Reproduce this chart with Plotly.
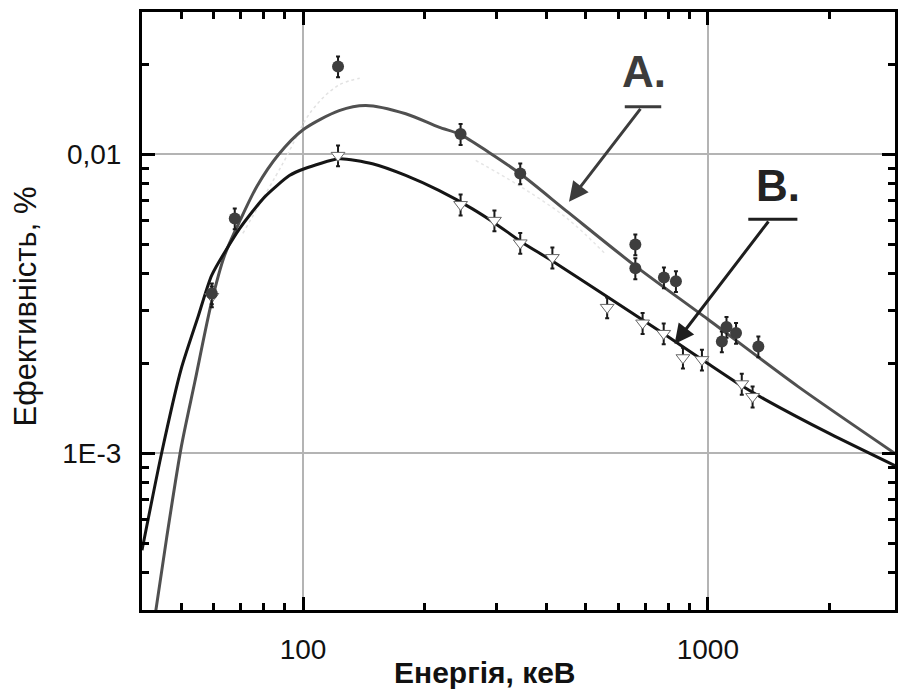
import plotly.graph_objects as go

# ---- data ----
# Curve A (grey fit)
curveA_x = [42.8, 46, 50, 54, 59.4, 64, 70, 77, 87, 100, 122.8, 142.9, 179.3, 216.5,
            244.8, 287.4, 344, 452, 660, 1000, 1665, 2900]
curveA_y = [2.7e-4, 5.2e-4, 1.05e-3, 1.73e-3, 3.2e-3, 4.6e-3, 6.05e-3, 7.85e-3, 1.0e-2,
            1.21e-2, 1.402e-2, 1.458e-2, 1.368e-2, 1.234e-2, 1.166e-2, 1.018e-2, 8.62e-3,
            6.4e-3, 4.25e-3, 2.81e-3, 1.68e-3, 1.0e-3]

# Curve B (black fit)
curveB_x = [40, 44.7, 50, 55, 59.5, 69.7, 80.3, 92.5, 100.7, 122.8, 148.4, 179.3, 216.5,
            261.5, 299, 347, 411, 557, 783, 1000, 1207, 1379, 2011, 2900]
curveB_y = [4.75e-4, 1.0e-3, 1.92e-3, 2.86e-3, 3.95e-3, 5.65e-3, 7.2e-3, 8.5e-3, 8.96e-3,
            9.67e-3, 9.31e-3, 8.51e-3, 7.58e-3, 6.59e-3, 5.87e-3, 5.09e-3, 4.42e-3, 3.38e-3,
            2.5e-3, 2.0e-3, 1.69e-3, 1.52e-3, 1.16e-3, 9.1e-4]

# faint dotted traces
faint1_x = [71, 89, 105, 122, 138]
faint1_y = [5.45e-3, 9.3e-3, 1.40e-2, 1.70e-2, 1.80e-2]
faint2_x = [267, 340, 450, 557]
faint2_y = [9.55e-3, 7.9e-3, 6.1e-3, 4.66e-3]

# Measured points, series A (filled circles)
ptsA_x = [59.5, 67.8, 122, 245, 344, 662, 662, 779, 834, 1083, 1112, 1174, 1333]
ptsA_y = [3.43e-3, 6.11e-3, 1.97e-2, 1.17e-2, 8.64e-3, 5.0e-3, 4.16e-3, 3.88e-3, 3.77e-3,
          2.37e-3, 2.65e-3, 2.53e-3, 2.28e-3]

# Measured points, series B (open triangles)
ptsB_x = [59.5, 122, 245, 297, 344, 413, 564, 690, 778, 868, 967, 1213, 1290]
ptsB_y = [3.35e-3, 9.93e-3, 6.8e-3, 6.02e-3, 5.06e-3, 4.52e-3, 3.08e-3, 2.73e-3, 2.52e-3,
          2.09e-3, 2.06e-3, 1.71e-3, 1.55e-3]

err_pct = 8

x_major = [100, 1000]
x_major_text = ["100", "1000"]
x_minor = [50, 60, 70, 80, 90, 200, 300, 400, 500, 600, 700, 800, 900, 2000]
y_major = [1e-3, 1e-2]
y_major_text = ["1E-3", "0,01"]
y_minor = [4e-4, 5e-4, 6e-4, 7e-4, 8e-4, 9e-4, 2e-3, 3e-3, 4e-3, 5e-3, 6e-3, 7e-3, 8e-3,
           9e-3, 2e-2]

x_title = "Енергія, кеВ"
y_title = "Ефективність, %"

FONT = "Liberation Sans, Arial, sans-serif"

fig = go.Figure()

fig.add_trace(go.Scatter(x=faint1_x, y=faint1_y, mode="lines",
                         line=dict(color="#e2e2e2", width=1.5, dash="dot", shape="spline"),
                         hoverinfo="skip", showlegend=False))
fig.add_trace(go.Scatter(x=faint2_x, y=faint2_y, mode="lines",
                         line=dict(color="#e6e6e6", width=1.5, dash="dot", shape="spline"),
                         hoverinfo="skip", showlegend=False))

fig.add_trace(go.Scatter(x=curveA_x, y=curveA_y, mode="lines",
                         line=dict(color="#505050", width=3, shape="spline", smoothing=0.8),
                         showlegend=False))
fig.add_trace(go.Scatter(x=curveB_x, y=curveB_y, mode="lines",
                         line=dict(color="#151515", width=3, shape="spline", smoothing=0.6),
                         showlegend=False))

fig.add_trace(go.Scatter(x=ptsB_x, y=ptsB_y, mode="markers",
                         marker=dict(symbol="triangle-down", size=12, color="white",
                                     line=dict(color="#666666", width=1)),
                         error_y=dict(type="percent", value=err_pct, color="#1a1a1a",
                                      thickness=2, width=2),
                         showlegend=False))
fig.add_trace(go.Scatter(x=ptsA_x, y=ptsA_y, mode="markers",
                         marker=dict(symbol="circle", size=12, color="#3e3e3e",
                                     line=dict(width=0)),
                         error_y=dict(type="percent", value=err_pct, color="#1a1a1a",
                                      thickness=2, width=2),
                         showlegend=False))

axis_common = dict(
    type="log", showline=True, linecolor="black", linewidth=3, mirror="allticks",
    ticks="inside", ticklen=13, tickwidth=2.5, tickcolor="black",
    showgrid=True, gridcolor="#b4b4b4", gridwidth=1.5, zeroline=False,
    tickfont=dict(family=FONT, size=28, color="#111111"),
    ticklabelstandoff=12,
)

fig.update_xaxes(
    **axis_common,
    range=[1.60206, 3.4624],
    tickmode="array", tickvals=x_major, ticktext=x_major_text,
    minor=dict(tickmode="array", tickvals=x_minor, ticks="inside", ticklen=7,
               tickwidth=2.5, tickcolor="black", showgrid=False),
)
fig.update_yaxes(
    **axis_common,
    range=[-3.5235, -1.5235],
    tickmode="array", tickvals=y_major, ticktext=y_major_text,
    minor=dict(tickmode="array", tickvals=y_minor, ticks="inside", ticklen=7,
               tickwidth=2.5, tickcolor="black", showgrid=False),
)

PW, PH, L, T = 756, 598, 142, 12


def px(xp):
    return (xp - L) / PW


def py(yp):
    return (T + PH - yp) / PH


annotations = [
    dict(text="A.", x=px(646), y=py(71.5), xref="paper", yref="paper", showarrow=False,
         font=dict(family=FONT, size=44, color="#3c3c3c", weight="bold"),
         xanchor="center", yanchor="middle"),
    dict(text="B.", x=px(781), y=py(185.5), xref="paper", yref="paper", showarrow=False,
         font=dict(family=FONT, size=44, color="#232323", weight="bold"),
         xanchor="center", yanchor="middle"),
    dict(text="", x=px(570.7), y=py(201.7), xref="paper", yref="paper", showarrow=True,
         ax=72.6, ay=-94.4, arrowhead=2, arrowsize=1.3, arrowwidth=3,
         arrowcolor="#3c3c3c"),
    dict(text="", x=px(676.7), y=py(344), xref="paper", yref="paper", showarrow=True,
         ax=95, ay=-124, arrowhead=2, arrowsize=1.3, arrowwidth=3,
         arrowcolor="#1e1e1e"),
    dict(text="<b>" + x_title + "</b>", x=px(486), y=py(672), xref="paper", yref="paper",
         showarrow=False, font=dict(family=FONT, size=30, color="#111111"),
         xanchor="center", yanchor="middle"),
    dict(text=y_title, x=px(25), y=py(306), xref="paper", yref="paper", showarrow=False,
         textangle=-90, font=dict(family=FONT, size=31, color="#111111"),
         xanchor="center", yanchor="middle"),
]

shapes = [
    dict(type="line", xref="paper", yref="paper", x0=px(626.7), x1=px(663.3),
         y0=py(106.7), y1=py(106.7), line=dict(color="#3c3c3c", width=3)),
    dict(type="line", xref="paper", yref="paper", x0=px(750.7), x1=px(800),
         y0=py(219.3), y1=py(219.3), line=dict(color="#1e1e1e", width=3)),
]

fig.update_layout(
    width=898, height=689,
    margin=dict(l=L, r=0, t=T, b=689 - T - PH, pad=0),
    plot_bgcolor="white", paper_bgcolor="white",
    annotations=annotations, shapes=shapes,
    showlegend=False,
)

fig.write_html(
    "out.html",
    config={"displayModeBar": False},
    post_script="document.body.style.margin='0px';document.body.style.overflow='hidden';",
)
